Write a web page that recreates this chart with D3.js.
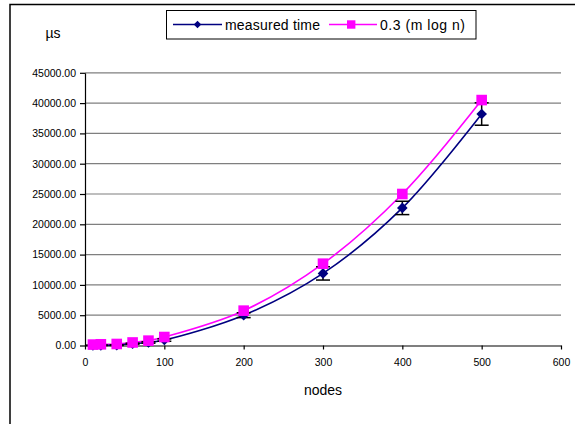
<!DOCTYPE html>
<html><head><meta charset="utf-8">
<script src="https://cdn.jsdelivr.net/npm/d3@7"></script>
<style>body{margin:0;background:#fff}svg{display:block}text{font-family:"Liberation Sans",Arial,sans-serif}</style>
</head><body>
<script>
const nodes = [10,20,40,60,80,100,200,300,400,500];
const measured = [20,30,60,300,500,900,5000,11900,22700,38200];
const measuredErr = [20,30,50,80,120,200,400,1100,1100,1850];
const model = [150,200,250,500,800,1400,5750,13500,25000,40500];
const yTicks = [0,5000,10000,15000,20000,25000,30000,35000,40000,45000];
const xTicks = [0,100,200,300,400,500,600];
const seriesNames = ["measured time","0.3 (m log n)"];

const W=575,H=424;
const svg=d3.select("body").append("svg").attr("width",W).attr("height",H);
svg.append("rect").attr("x",10).attr("y",4.5).attr("width",W).attr("height",H).attr("fill","#fff").attr("stroke","#000").attr("stroke-width",1.5);

const x=d3.scaleLinear().domain([0,600]).range([85,561]);
const y=d3.scaleLinear().domain([0,45000]).range([345.5,72.8]);

// gridlines
svg.append("g").selectAll("line").data(yTicks.slice(1)).join("line")
 .attr("x1",x(0)).attr("x2",x(600)).attr("y1",d=>y(d)).attr("y2",d=>y(d))
 .attr("stroke","#7f7f7f").attr("stroke-width",1.2);

const yAxis=svg.append("g").attr("transform",`translate(${x(0)},0)`)
 .call(d3.axisLeft(y).tickValues(yTicks).tickSize(5).tickPadding(4).tickFormat(d=>d.toFixed(2)).tickSizeOuter(0));
const xAxis=svg.append("g").attr("transform",`translate(0,${y(0)})`)
 .call(d3.axisBottom(x).tickValues(xTicks).tickSize(4).tickPadding(9).tickSizeOuter(0));
[yAxis,xAxis].forEach(a=>{a.selectAll("text").attr("font-size",10.5).attr("fill","#000").attr("font-family","Liberation Sans, Arial, sans-serif");
 a.select(".domain").attr("stroke","#000").attr("stroke-width",1.2);a.selectAll(".tick line").attr("stroke","#000").attr("stroke-width",1.2);});

const curve=d3.curveCatmullRom.alpha(0.5);
const lineM=d3.line().x((d,i)=>x(nodes[i])).y(d=>y(d)).curve(curve);

svg.append("path").datum(model).attr("d",lineM).attr("fill","none").attr("stroke","#ff00ff").attr("stroke-width",1.6);
svg.append("path").datum(measured).attr("d",lineM).attr("fill","none").attr("stroke","#000080").attr("stroke-width",1.6);

// error bars
const eb=svg.append("g").attr("stroke","#000").attr("stroke-width",1.5);
nodes.forEach((n,i)=>{
 const cx=x(n),t=y(measured[i]+measuredErr[i]),b=y(measured[i]-measuredErr[i]);
 eb.append("line").attr("x1",cx).attr("x2",cx).attr("y1",t).attr("y2",b);
 eb.append("line").attr("x1",cx-7).attr("x2",cx+7).attr("y1",t).attr("y2",t);
 eb.append("line").attr("x1",cx-7).attr("x2",cx+7).attr("y1",b).attr("y2",b);
});

const diamond=d3.symbol().type(d3.symbolDiamond2).size(72);
svg.append("g").selectAll("path").data(measured).join("path")
 .attr("transform",(d,i)=>`translate(${x(nodes[i])},${y(d)})`)
 .attr("d",diamond()).attr("fill","#000080");
svg.append("g").selectAll("rect").data(model).join("rect")
 .attr("x",(d,i)=>x(nodes[i])-5.3).attr("y",d=>y(d)-5.3).attr("width",10.6).attr("height",10.6).attr("fill","#ff00ff");

// labels
svg.append("text").attr("x",53).attr("y",38).attr("font-size",14).attr("text-anchor","middle").text("µs");
svg.append("text").attr("x",323).attr("y",395).attr("font-size",14).attr("text-anchor","middle").text("nodes");

// legend
const lg=svg.append("g");
lg.append("rect").attr("x",166.5).attr("y",10.5).attr("width",309.5).attr("height",28.5).attr("fill","#fff").attr("stroke","#000").attr("stroke-width",1);
const ly=24.5;
lg.append("line").attr("x1",173).attr("x2",222).attr("y1",ly).attr("y2",ly).attr("stroke","#000080").attr("stroke-width",1.6);
lg.append("path").attr("transform",`translate(197.5,${ly})`).attr("d",d3.symbol().type(d3.symbolDiamond2).size(36)()).attr("fill","#000080");
lg.append("text").attr("x",225).attr("y",ly+5).attr("font-size",14).attr("textLength",95).text(seriesNames[0]);
lg.append("line").attr("x1",329).attr("x2",377).attr("y1",ly).attr("y2",ly).attr("stroke","#ff00ff").attr("stroke-width",1.6);
lg.append("rect").attr("x",347).attr("y",ly-4.2).attr("width",8.4).attr("height",8.4).attr("fill","#ff00ff");
lg.append("text").attr("x",380).attr("y",ly+5).attr("font-size",14).attr("textLength",85).text(seriesNames[1]);
</script>
</body></html>
